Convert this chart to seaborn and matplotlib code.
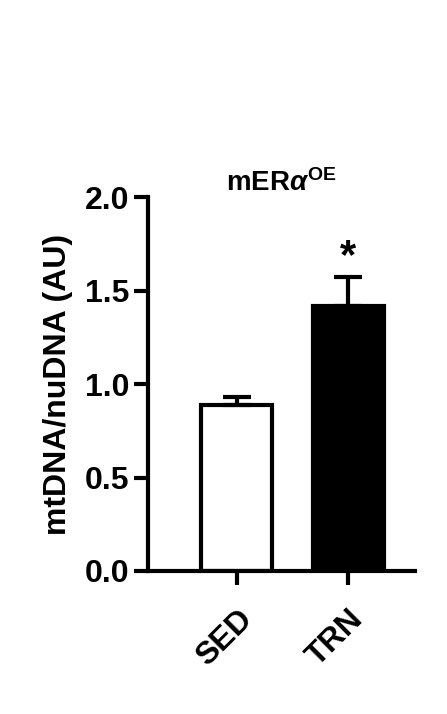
import matplotlib
matplotlib.use("Agg")
import matplotlib.pyplot as plt
import seaborn as sns
import pandas as pd

groups = ["SED", "TRN"]
means = [0.89, 1.42]
errs = [0.04, 0.15]
colors = ["white", "black"]

sns.set_style("ticks")
plt.rcParams['font.family'] = ['Liberation Sans', 'DejaVu Sans']
plt.rcParams['font.weight'] = 'bold'
plt.rcParams['text.color'] = 'black'
plt.rcParams['axes.labelcolor'] = 'black'
plt.rcParams['xtick.color'] = 'black'
plt.rcParams['ytick.color'] = 'black'
plt.rcParams['axes.edgecolor'] = 'black'
plt.rcParams['mathtext.fontset'] = 'custom'
plt.rcParams['mathtext.bf'] = 'Liberation Sans:bold'
plt.rcParams['mathtext.it'] = 'Liberation Sans:bold:italic'

fig = plt.figure(figsize=(4.47, 7.14), dpi=100)
ax = fig.add_axes([0.331, 0.2003, 0.597, 0.5237])
df = pd.DataFrame({"g": groups, "v": means})
sns.barplot(data=df, x="g", y="v", hue="g", palette=colors, width=0.64,
            edgecolor="black", linewidth=3, ax=ax, legend=False)
for i, (m, e) in enumerate(zip(means, errs)):
    ax.errorbar(i, m, yerr=[[0], [e]], color="black", capsize=10, capthick=3, elinewidth=3)
ax.text(1, 1.57, "*", ha="center", va="bottom", fontsize=30, fontweight="bold")
ax.set_xlim(-0.8, 1.6)
ax.set_ylim(0, 2.0)
ax.set_yticks([0, 0.5, 1.0, 1.5, 2.0])
ax.set_yticklabels(["0.0", "0.5", "1.0", "1.5", "2.0"], fontsize=23, fontweight="bold")
ax.set_xticks([0, 1])
ax.set_xticklabels(groups, rotation=45, ha="right", rotation_mode="anchor", fontsize=23, fontweight="bold")
ax.tick_params(axis="x", pad=14)
ax.set_xlabel("")
ax.set_ylabel("mtDNA/nuDNA (AU)", fontsize=23, fontweight="bold", labelpad=8)
ax.tick_params(width=3, length=10)
for s in ["left", "bottom"]:
    ax.spines[s].set_linewidth(3)
sns.despine(ax=ax)
ax.set_title(r"mER$\mathit{\alpha}^{\mathbf{OE}}$", fontsize=20, fontweight="bold", x=0.5, pad=4)
fig.savefig("out.png", dpi=100)
